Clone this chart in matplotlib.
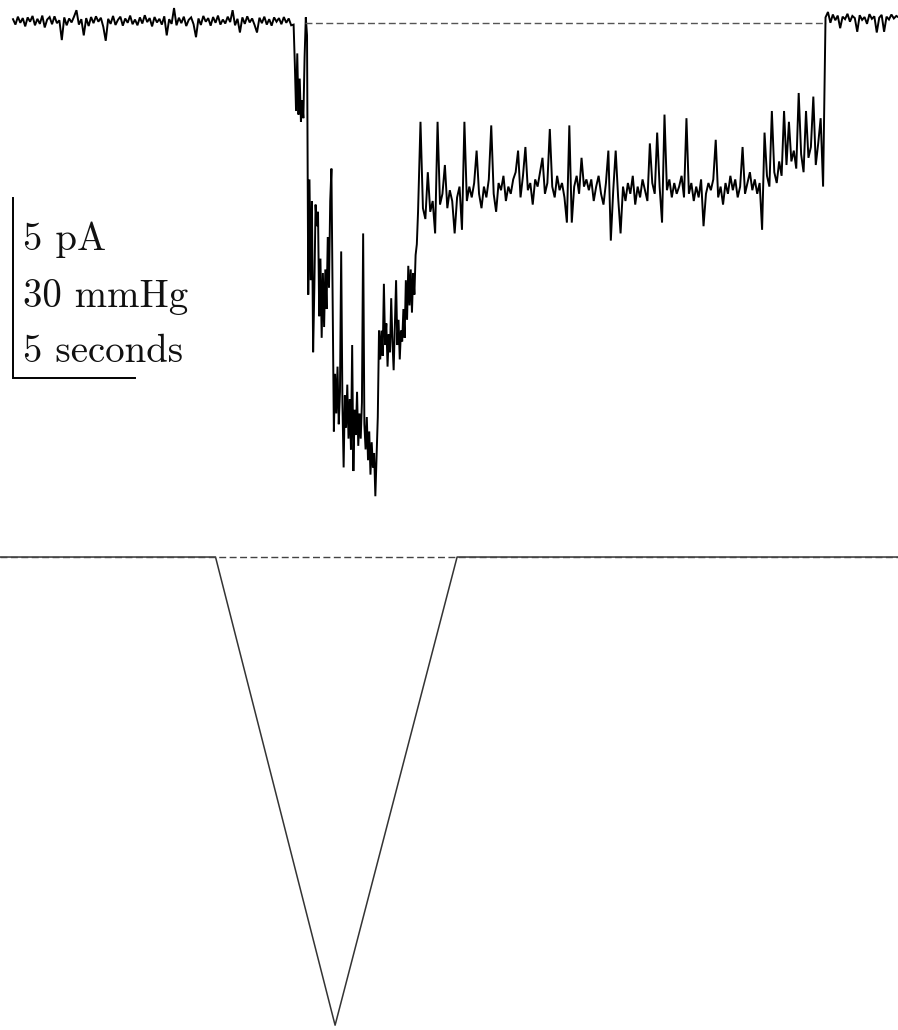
import numpy as np
import matplotlib
matplotlib.use("Agg")
import matplotlib.pyplot as plt

# ---------------- data ----------------
# current trace, pA; four segments sampled at fixed intervals
base_start_t, base_dt = 0.0, 0.1
base_pA = [0.05, -0.10, 0.12, -0.05, 0.08, -0.15, 0.10, -0.02, 0.14, -0.12,
           0.06, -0.08, 0.15, -0.18, 0.04, 0.11, -0.09, 0.13, -0.06, 0.02,
           -0.53, 0.10, -0.12, 0.07, -0.04, 0.12, 0.30, -0.10, 0.05, -0.40,
           0.08, -0.14, 0.11, -0.06, 0.13, -0.02, 0.09, -0.16, -0.55, 0.06,
           -0.08, 0.14, -0.11, 0.03, 0.12, -0.13, 0.07, -0.05, 0.15, -0.09,
           0.04, -0.12, 0.10, -0.07, 0.16, -0.03, 0.08, -0.15, 0.11, -0.04,
           0.06, -0.10, 0.13, -0.40, 0.05, -0.08, 0.36, -0.12, 0.09, -0.06,
           0.12, -0.14, 0.03, 0.10, -0.09, -0.45, 0.07, -0.11, 0.14, -0.02,
           0.08, -0.13, 0.11, -0.05, 0.15, -0.10, 0.04, -0.07, 0.12, -0.03,
           0.30, -0.12, 0.06, -0.32, 0.10, -0.08, 0.13, -0.04, 0.07, -0.11,
           -0.32, 0.09, -0.06, 0.12, -0.10, 0.05, -0.13, 0.10, -0.02, 0.08,
           -0.09, 0.11, -0.05, 0.07, -0.12]

peak_start_t, peak_dt = 11.5, 0.05
peak_pA = [-0.1, -1.2, -2.5, -0.9, -2.6, -1.6, -2.8, -2.2, -2.7, -1.0,
           0.1, -0.4, -7.6, -4.4, -7.2, -5.0, -9.2, -7.4, -5.1, -5.7,
           -5.3, -8.2, -6.6, -8.8, -7.0, -8.5, -6.9, -8.0, -6.0, -7.4,
           -5.0, -4.1, -7.7, -11.4, -9.8, -10.9, -9.6, -11.2, -10.3, -6.4,
           -10.6, -12.4, -10.4, -11.3, -10.1, -11.6, -10.5, -11.9, -9.0, -12.5,
           -10.8, -11.5, -10.3, -11.8, -10.9, -11.6, -10.6, -5.9, -11.2, -11.9,
           -11.0, -12.2, -11.4, -12.6, -11.7, -12.4, -12.0, -13.2, -12.1, -11.0,
           -8.6, -9.4, -8.6, -9.3, -7.3, -9.0, -8.4, -9.6, -8.7, -9.2,
           -7.7, -8.9, -9.7, -8.5, -7.2, -9.0, -8.3, -9.4, -8.6, -8.9,
           -8.0, -8.8, -7.2, -8.3, -6.8, -7.9, -6.9, -8.1, -7.0, -7.6,
           -6.5, -6.2]

plateau_start_t, plateau_dt = 16.6, 0.1
plateau_pA = [-5.3, -2.8, -5.2, -5.5, -4.2, -5.3, -5.0, -5.9, -2.8, -5.1,
              -4.8, -4.0, -5.2, -4.7, -5.0, -5.9, -4.9, -4.6, -5.8, -2.8,
              -5.0, -4.6, -4.9, -4.5, -3.6, -4.8, -5.2, -4.6, -4.9, -4.4,
              -2.9, -4.8, -5.3, -4.5, -4.7, -4.3, -5.0, -4.6, -4.8, -4.4,
              -4.2, -3.6, -4.9, -4.3, -3.5, -4.7, -4.5, -5.1, -4.4, -4.6,
              -4.2, -3.8, -4.8, -4.5, -3.0, -4.6, -4.9, -4.3, -4.7, -4.5,
              -4.9, -5.6, -2.9, -5.6, -4.6, -4.3, -4.8, -3.8, -4.6, -4.4,
              -4.7, -4.4, -5.0, -4.6, -4.3, -4.8, -5.1, -4.5, -3.6, -6.1,
              -4.7, -3.6, -4.9, -5.9, -4.6, -5.0, -4.5, -4.8, -4.3, -5.1,
              -4.6, -4.9, -4.4, -4.7, -5.0, -3.4, -4.5, -4.8, -3.1, -4.6,
              -5.6, -2.6, -4.7, -4.4, -4.9, -4.5, -4.8, -4.6, -4.3, -4.9,
              -2.7, -4.8, -4.5, -5.0, -4.6, -4.9, -4.4, -5.7, -4.8, -4.5,
              -4.7, -4.4, -3.3, -4.9, -4.6, -5.1, -4.5, -4.8, -4.3, -4.7,
              -4.4, -4.9, -4.6, -3.5, -4.8, -4.5, -4.2, -4.7, -4.4, -4.8,
              -4.5, -5.8, -3.1, -4.3, -4.6, -2.5, -4.2, -4.5, -3.9, -4.3,
              -2.5, -4.0, -2.8, -3.9, -3.6, -4.1, -2.0, -3.7, -4.2, -2.5,
              -3.8, -3.5, -2.1, -4.0, -3.4, -2.7, -4.6]

recovery_start_t, recovery_dt = 33.3, 0.1
recovery_pA = [0.10, 0.25, -0.05, 0.18, 0.02, 0.15, -0.20, 0.12, 0.05, 0.20,
               -0.02, 0.14, 0.08, -0.30, 0.16, 0.03, 0.11, -0.08, 0.19, 0.06,
               0.13, -0.32, 0.09, 0.17, -0.30, 0.12, 0.04, 0.18, 0.07, 0.14,
               0.10]

# pressure ramp (mmHg)
pressure_t = [-0.6, 8.3, 13.2, 18.2, 36.4]
pressure_mmHg = [0.0, 0.0, -78.0, 0.0, 0.0]

# scale bar and labels
bar_pA, bar_s = 5.0, 5.0
scale_labels = ["5 pA", "30 mmHg", "5 seconds"]

# ---------------- build series ----------------
def seg(start, dt, vals):
    return start + dt * np.arange(len(vals)), np.asarray(vals, float)

parts = [seg(base_start_t, base_dt, base_pA),
         seg(peak_start_t, peak_dt, peak_pA),
         seg(plateau_start_t, plateau_dt, plateau_pA),
         seg(recovery_start_t, recovery_dt, recovery_pA)]
t_cur = np.concatenate([p[0] for p in parts])
i_cur = np.concatenate([p[1] for p in parts])

# ---------------- figure ----------------
W, H = 898, 1030
fig = plt.figure(figsize=(W / 100, H / 100), dpi=100)
xlim = (-0.533, 36.27)

ax1 = fig.add_axes([0, (H - 520) / H, 1, 520 / H])
ax1.set_xlim(*xlim)
ax1.set_ylim(-13.86, 0.583)
ax1.axis("off")

ax1.plot(t_cur, i_cur, color="black", lw=1.4, solid_joinstyle="miter")
ax1.plot([11.97, 33.3], [-0.05, -0.05], color="#555555", lw=1.0,
         dashes=(5, 2.5))

# scale bar
y_bar_top = -4.92
ax1.plot([0, 0, bar_s], [y_bar_top, y_bar_top - bar_pA, y_bar_top - bar_pA],
         color="black", lw=1.4, solid_joinstyle="miter")
for lab, yy in zip(scale_labels, [-6.08, -7.67, -9.19]):
    ax1.text(0.40, yy, lab, fontfamily="cmr10", fontsize=28,
             ha="left", va="center", color="#111111")

ax2 = fig.add_axes([0, 0, 1, 510 / H])
ax2.set_xlim(*xlim)
ax2.set_ylim(-78.8, 6.17)
ax2.axis("off")
ax2.plot(pressure_t, pressure_mmHg, color="#333333", lw=1.1)
ax2.plot([xlim[0], xlim[1]], [0, 0], color="#444444", lw=1.0, dashes=(5, 2.5))

fig.savefig("out.png", dpi=100, facecolor="white")
